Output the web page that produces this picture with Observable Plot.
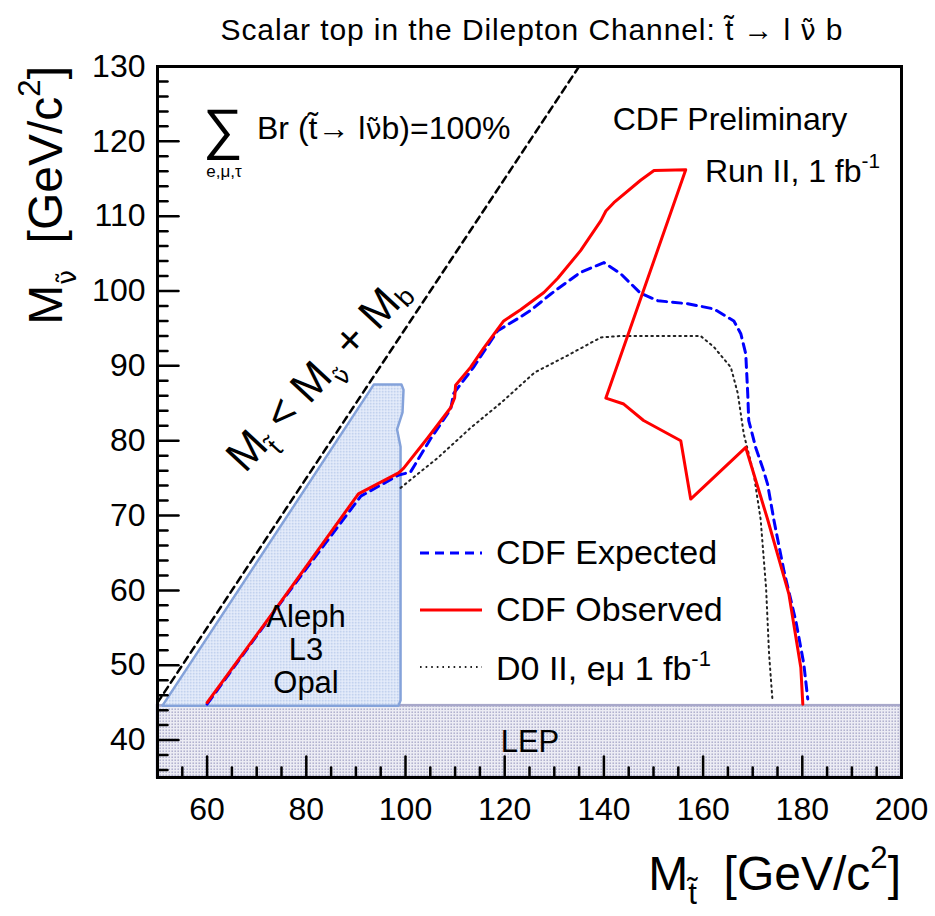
<!DOCTYPE html>
<html>
<head>
<meta charset="utf-8">
<script src="https://cdn.jsdelivr.net/npm/d3@7"></script>
<script src="https://cdn.jsdelivr.net/npm/@observablehq/plot@0.6"></script>
<style>
  html, body { margin: 0; padding: 0; background: #fff; }
  #chart { position: relative; width: 935px; height: 916px; font-family: "Liberation Sans", Arial, sans-serif; }
  .legend { position: absolute; left: 418px; top: 524px; font-family: "Liberation Sans", Arial, sans-serif; font-size: 34px; color: #000; }
  .legend .row { display: flex; align-items: center; height: 57px; }
  .legend svg { width: 66px; height: 20px; margin-right: 12px; }
</style>
</head>
<body>
<div id="chart"></div>
<script>
// ---------- data ----------
const xMajor = [60, 80, 100, 120, 140, 160, 180, 200];
const yMajor = [40, 50, 60, 70, 80, 90, 100, 110, 120, 130];
const xMinor = d3.range(55, 200, 5).filter(v => v % 20 !== 0);
const yMinor = d3.range(36, 130, 2).filter(v => v % 10 !== 0);

// CDF observed limit (red, solid)
const obsX = [60, 75, 90.5, 98.6, 99.6, 104.5, 109.1, 109.9, 110.1, 113.1, 115.8, 119.8, 123.2, 127.9, 130.7, 135.3, 139.4, 140.4, 142, 147.4, 150.1, 156.5, 140.4, 144, 148, 155.5, 157.5, 168.6, 173, 177.3, 179.7, 180.1];
const obsY = [45, 58.6, 72.9, 75.7, 76.3, 80.4, 84.4, 85.7, 87.4, 89.8, 92.4, 96.0, 97.5, 99.8, 101.7, 105.4, 109.4, 110.7, 111.8, 114.8, 116.1, 116.2, 85.7, 84.9, 82.7, 80.0, 72.2, 79.1, 69.5, 59.5, 49.7, 44.8];

// CDF expected limit (blue, dashed)
const expX = [60, 75, 91, 98.6, 101, 105, 109.1, 109.7, 113.7, 118.6, 122.6, 125.2, 129.3, 130.7, 135.3, 140, 143.4, 147.4, 150.9, 156.9, 162.2, 166.2, 167.6, 168.6, 169, 169.2, 170.6, 172, 173, 174.3, 176.3, 178.7, 180.3, 181.1];
const expY = [44.8, 58.5, 72.6, 75.4, 75.8, 80.2, 84.2, 86.3, 89.8, 94.7, 96.3, 97.4, 99.6, 100.3, 102.5, 103.8, 102.3, 99.7, 98.7, 98.3, 97.6, 96.0, 94.3, 91.6, 86.3, 82.7, 79.1, 76.4, 74.2, 69.3, 62.6, 55.9, 50.2, 45.5];

// D0 Run II e-mu 1 fb^-1 (black, dotted)
const d0X = [99, 106.5, 113.1, 119.5, 126, 132.7, 139.4, 143.4, 159.5, 162.2, 165.6, 167, 168.2, 170.2, 171.6, 172.7, 173.3, 174];
const d0Y = [73.7, 77.7, 81.7, 85.2, 89.1, 91.4, 93.8, 94.0, 94.0, 92.5, 89.8, 86.3, 80.9, 75.6, 69.5, 60.3, 51.5, 45.2];

// LEP (Aleph, L3, Opal) excluded region
const alephX = [51, 93.6, 99.2, 99.6, 99.4, 98.3, 99, 99, 98.6, 51];
const alephY = [44.6, 87.5, 87.5, 86.8, 83.8, 81.5, 79.2, 45.3, 44.6, 44.6];

// LEP band
const lepX = [50, 200];
const lepY = [35, 44.6];

// kinematic limit M_stop = M_snu + M_b
const kinX = [50, 135];
const kinY = [45, 130];

// ---------- helpers ----------
const pts = (xs, ys) => xs.map((x, i) => ({x, y: ys[i]}));
const tickShape = {draw(ctx, l) { ctx.moveTo(0, 0); ctx.lineTo(0, -l); }};

const plot = Plot.plot({
  width: 935,
  height: 916,
  marginLeft: 157,
  marginRight: 34,
  marginTop: 66,
  marginBottom: 139,
  x: {domain: [50, 200]},
  y: {domain: [35, 130]},
  style: {fontFamily: "'Liberation Sans', Arial, sans-serif", background: "white", color: "black"},
  marks: [
    Plot.rect([{x1: lepX[0], x2: lepX[1], y1: lepY[0], y2: lepY[1]}], {x1: "x1", x2: "x2", y1: "y1", y2: "y2", fill: "url(#lepPat)", stroke: "#a8a8ca", strokeWidth: 2.5}),
    Plot.line(pts(alephX, alephY), {x: "x", y: "y", fill: "url(#alephPat)", stroke: "#84a2da", strokeWidth: 2.5, strokeLinejoin: "round"}),
    Plot.line(pts(d0X, d0Y), {x: "x", y: "y", stroke: "#222", strokeWidth: 2, strokeDasharray: "1.6,4"}),
    Plot.line(pts(expX, expY), {x: "x", y: "y", stroke: "#0000ff", strokeWidth: 3, strokeDasharray: "9,6"}),
    Plot.line(pts(obsX, obsY), {x: "x", y: "y", stroke: "#ff0000", strokeWidth: 3}),
    Plot.line(pts(kinX, kinY), {x: "x", y: "y", stroke: "black", strokeWidth: 2.5, strokeDasharray: "7,5"}),
    // ticks, drawn inward as in ROOT
    Plot.vector(xMajor, {x: d => d, frameAnchor: "bottom", length: 21, anchor: "start", shape: tickShape, stroke: "black", strokeWidth: 2.5}),
    Plot.vector(xMinor, {x: d => d, frameAnchor: "bottom", length: 10, anchor: "start", shape: tickShape, stroke: "black", strokeWidth: 2.5}),
    Plot.vector(yMajor, {y: d => d, frameAnchor: "left", length: 21, rotate: 90, anchor: "start", shape: tickShape, stroke: "black", strokeWidth: 2.5}),
    Plot.vector(yMinor, {y: d => d, frameAnchor: "left", length: 10, rotate: 90, anchor: "start", shape: tickShape, stroke: "black", strokeWidth: 2.5}),
    Plot.axisX(xMajor, {tickSize: 0, tickPadding: 20, fontSize: 32, label: null}),
    Plot.axisY(yMajor, {tickSize: 0, tickPadding: 12, fontSize: 32, label: null}),
    Plot.frame({stroke: "black", strokeWidth: 3})
  ]
});

document.getElementById("chart").appendChild(plot);

const svg = d3.select(plot);
svg.insert("defs", ":first-child").html(`
  <pattern id="lepPat" width="3" height="3" patternUnits="userSpaceOnUse">
    <rect width="3" height="3" fill="#ececf4"/><rect x="0.5" y="0.5" width="1.4" height="1.4" fill="#a4a4c6"/>
  </pattern>
  <pattern id="alephPat" width="3" height="3" patternUnits="userSpaceOnUse">
    <rect width="3" height="3" fill="#eaf0fc"/><rect x="0.5" y="0.5" width="1.4" height="1.4" fill="#9ab2e0"/>
  </pattern>`);

const FONT = "'Liberation Sans', Arial, sans-serif";
const GREEK = "'DejaVu Sans', 'Liberation Sans', sans-serif";
// rich text; parts: {t, shift (em of base size, + = down), scale, family}
function rich(x, y, parts, {size, anchor = "start", rotate = 0}) {
  const t = svg.append("text")
    .attr("transform", `translate(${x},${y}) rotate(${rotate})`)
    .attr("font-family", FONT)
    .attr("font-size", size)
    .attr("text-anchor", anchor)
    .attr("fill", "black");
  let cur = 0;
  for (const p of parts) {
    const shift = (p.shift || 0) * size;
    const ts = t.append("tspan").text(p.t).attr("dy", shift - cur);
    if (p.scale) ts.attr("font-size", size * p.scale);
    if (p.family) ts.attr("font-family", p.family);
    cur = shift;
  }
  return t;
}
const NUT = "\u03BD\u0303";  // sneutrino symbol
const TT = "t\u0303";        // stop symbol

// title
rich(532, 40, [
  {t: "Scalar top in the Dilepton Channel: " + TT + " \u2192 l "},
  {t: NUT, family: GREEK, scale: 0.92},
  {t: " b"}
], {size: 30, anchor: "middle"}).attr("letter-spacing", 0.9);

// axis titles
rich(901, 890, [
  {t: "M"}, {t: TT, shift: 0.3, scale: 0.65}, {t: "  [GeV/c", shift: 0}, {t: "2", shift: -0.45, scale: 0.65}, {t: "]", shift: 0}
], {size: 48, anchor: "end"});
rich(62, 66, [
  {t: "M"}, {t: NUT, shift: 0.3, scale: 0.55, family: GREEK}, {t: "  [GeV/c", shift: 0}, {t: "2", shift: -0.45, scale: 0.65}, {t: "]", shift: 0}
], {size: 48, anchor: "end", rotate: -90});

// annotations
rich(730, 130, [{t: "CDF Preliminary"}], {size: 32, anchor: "middle"});
rich(705, 182, [{t: "Run II, 1 fb"}, {t: "-1", shift: -0.45, scale: 0.65}], {size: 32});
rich(223, 148, [{t: "\u2211"}], {size: 56, anchor: "middle"});
rich(224, 177, [{t: "e,\u03BC,\u03C4"}], {size: 17, anchor: "middle"});
rich(257, 139, [{t: "Br (" + TT + "\u2192 l"}, {t: NUT, family: GREEK, scale: 0.9}, {t: "b)=100%"}], {size: 32});
rich(245, 474, [
  {t: "M"}, {t: TT, shift: 0.28, scale: 0.6}, {t: " < M", shift: 0},
  {t: NUT, shift: 0.28, scale: 0.55, family: GREEK},
  {t: " + M", shift: 0}, {t: "b", shift: 0.12, scale: 0.6}
], {size: 44, rotate: -47});
rich(306, 627, [{t: "Aleph"}], {size: 31, anchor: "middle"});
rich(306, 660, [{t: "L3"}], {size: 31, anchor: "middle"});
rich(306, 693, [{t: "Opal"}], {size: 31, anchor: "middle"});
rich(530, 752, [{t: "LEP"}], {size: 31, anchor: "middle"});

// legend (inside the frame)
const legendItems = [
  {label: "CDF Expected", stroke: "#0000ff", dash: "9,6", width: 3, sup: null},
  {label: "CDF Observed", stroke: "#ff0000", dash: null, width: 3, sup: null},
  {label: "D0 II, e\u03BC 1 fb", stroke: "#222", dash: "1.6,4", width: 2, sup: "-1"}
];
const legend = d3.select("#chart").append("div").attr("class", "legend");
for (const it of legendItems) {
  const row = legend.append("div").attr("class", "row");
  const s = row.append("svg").attr("viewBox", "0 0 66 20");
  s.append("line").attr("x1", 2).attr("x2", 64).attr("y1", 10).attr("y2", 10)
    .attr("stroke", it.stroke).attr("stroke-width", it.width).attr("stroke-dasharray", it.dash);
  const sp = row.append("span").text(it.label);
  if (it.sup) sp.append("sup").style("font-size", "22px").style("vertical-align", "14px").text(it.sup);
}
</script>
</body>
</html>
